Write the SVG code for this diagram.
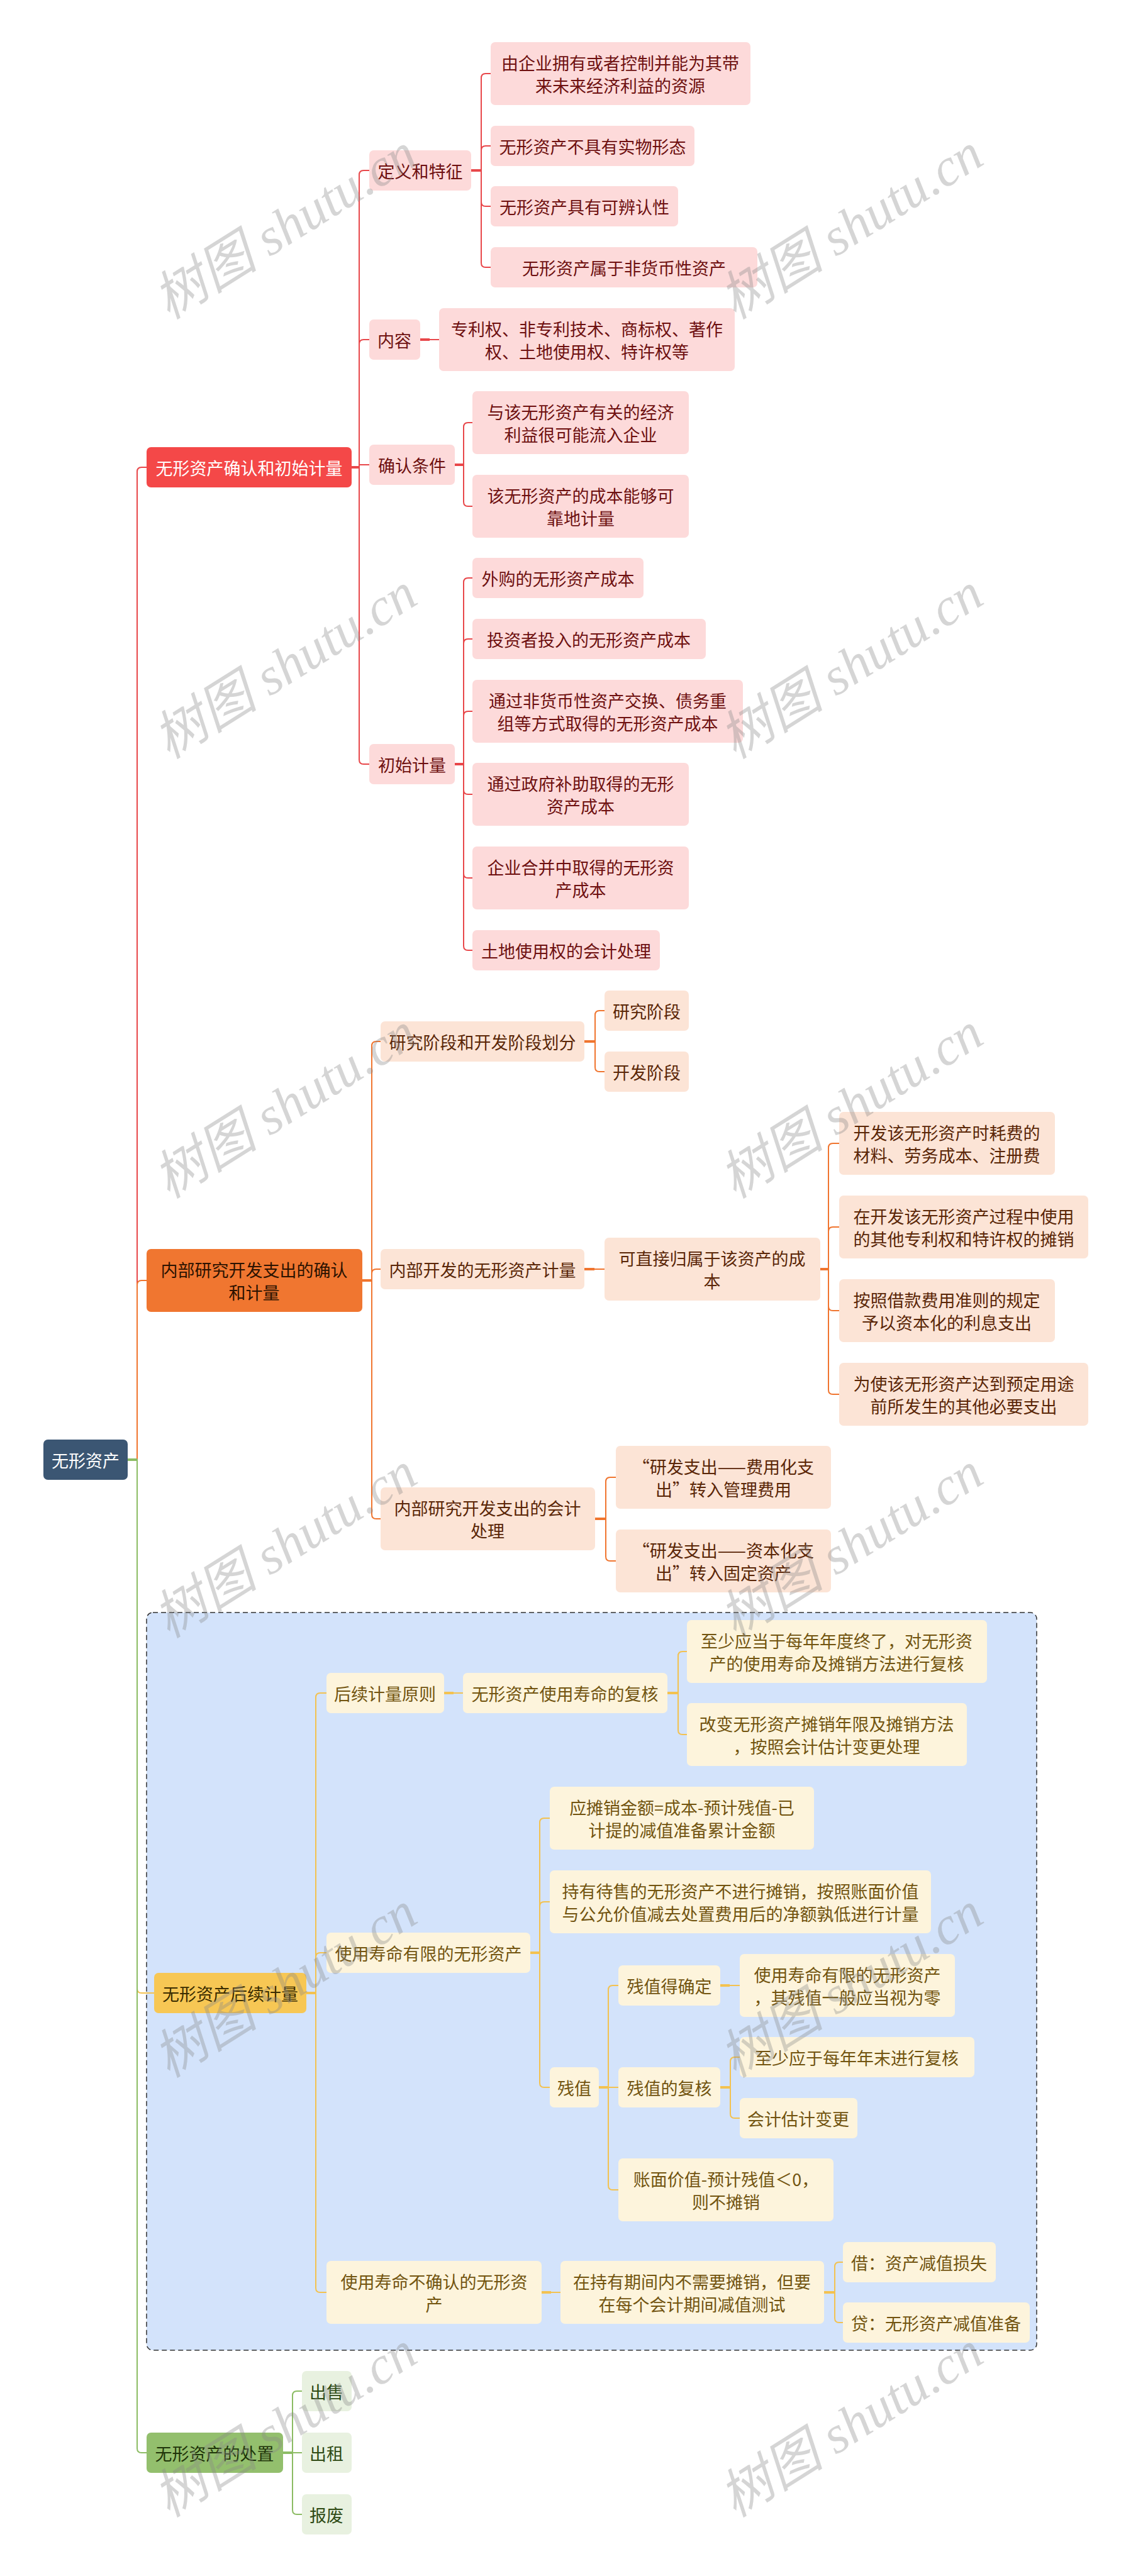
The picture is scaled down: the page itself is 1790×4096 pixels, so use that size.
<svg xmlns="http://www.w3.org/2000/svg" width="1790" height="4096" viewBox="0 0 1790 4096">
<style>
text{font-family:"Noto Sans CJK SC","Noto Sans",sans-serif;font-size:27px;text-anchor:middle;dominant-baseline:central}
.ln{fill:none;stroke-width:2}
.st{fill:none;stroke-width:4}
.red{stroke:#e8474a}.org{stroke:#f0752f}.yel{stroke:#f3c250}.grn{stroke:#8cbc64}
.pk rect{fill:#fddada}.pk text{fill:#6e1010}
.pc rect{fill:#fce4d6}.pc text{fill:#5a2607}
.cr rect{fill:#fdf4dc}.cr text{fill:#725410}
.lg rect{fill:#e8f1e0}.lg text{fill:#2e4a14}
.wm{font-family:"Liberation Serif","Noto Sans CJK SC",serif;font-style:italic;font-size:84px;fill:#888;opacity:.35}
</style>
<rect x="233" y="2564" width="1415" height="1173" rx="10" fill="#d3e3fb" stroke="#333" stroke-width="1.5" stroke-dasharray="8 5"/>
<g id="connectors">
<path class="ln red" d="M203 2321 H218 V750 Q218 743 225 743 H233"/>
<path class="ln org" d="M203 2321 H218 V2043 Q218 2036 225 2036 H233"/>
<path class="ln yel" d="M203 2321 H218 V3162 Q218 3169 225 3169 H245"/>
<path class="ln grn" d="M203 2321 H218 V3893 Q218 3900 225 3900 H233"/>
<path class="st grn" d="M203 2321 H218"/>
<path class="st red" d="M559 743 H571"/>
<path class="ln red" d="M571 743 V278 Q571 271 578 271 H587 M571 743 V547 Q571 540 578 540 H587 M571 743 V739 H587 M571 743 V1208 Q571 1215 578 1215 H587"/>
<path class="st red" d="M749 271 H765"/>
<path class="ln red" d="M765 271 V124 Q765 117 772 117 H780 M765 271 V239 Q765 232 772 232 H780 M765 271 V321 Q765 328 772 328 H780 M765 271 V418 Q765 425 772 425 H780"/>
<path class="st red" d="M668 540 H683"/>
<path class="ln red" d="M683 540 H698"/>
<path class="st red" d="M723 739 H737"/>
<path class="ln red" d="M737 739 V679 Q737 672 744 672 H751 M737 739 V798 Q737 805 744 805 H751"/>
<path class="st red" d="M723 1215 H737"/>
<path class="ln red" d="M737 1215 V926 Q737 919 744 919 H751 M737 1215 V1023 Q737 1016 744 1016 H751 M737 1215 V1138 Q737 1131 744 1131 H751 M737 1215 V1256 Q737 1263 744 1263 H751 M737 1215 V1389 Q737 1396 744 1396 H751 M737 1215 V1504 Q737 1511 744 1511 H751"/>
<path class="st org" d="M576 2036 H591"/>
<path class="ln org" d="M591 2036 V1663 Q591 1656 598 1656 H605 M591 2036 V2025 Q591 2018 598 2018 H605 M591 2036 V2408 Q591 2415 598 2415 H605"/>
<path class="st org" d="M929 1656 H946"/>
<path class="ln org" d="M946 1656 V1614 Q946 1607 953 1607 H961 M946 1656 V1697 Q946 1704 953 1704 H961"/>
<path class="st org" d="M929 2018 H945"/>
<path class="ln org" d="M945 2018 H961"/>
<path class="st org" d="M1304 2018 H1317"/>
<path class="ln org" d="M1317 2018 V1825 Q1317 1818 1324 1818 H1334 M1317 2018 V1958 Q1317 1951 1324 1951 H1334 M1317 2018 V2077 Q1317 2084 1324 2084 H1334 M1317 2018 V2210 Q1317 2217 1324 2217 H1334"/>
<path class="st org" d="M946 2415 H963"/>
<path class="ln org" d="M963 2415 V2356 Q963 2349 970 2349 H979 M963 2415 V2475 Q963 2482 970 2482 H979"/>
<path class="st yel" d="M487 3169 H502"/>
<path class="ln yel" d="M502 3169 V2699 Q502 2692 509 2692 H519 M502 3169 V3112 Q502 3105 509 3105 H519 M502 3169 V3638 Q502 3645 509 3645 H519"/>
<path class="st yel" d="M706 2692 H721"/>
<path class="ln yel" d="M721 2692 H736"/>
<path class="st yel" d="M1061 2692 H1078"/>
<path class="ln yel" d="M1078 2692 V2633 Q1078 2626 1085 2626 H1092 M1078 2692 V2751 Q1078 2758 1085 2758 H1092"/>
<path class="st yel" d="M843 3105 H858"/>
<path class="ln yel" d="M858 3105 V2898 Q858 2891 865 2891 H874 M858 3105 V3031 Q858 3024 865 3024 H874 M858 3105 V3312 Q858 3319 865 3319 H874"/>
<path class="st yel" d="M952 3319 H967"/>
<path class="ln yel" d="M967 3319 V3164 Q967 3157 974 3157 H983 M967 3319 H983 M967 3319 V3475 Q967 3482 974 3482 H983"/>
<path class="st yel" d="M1145 3157 H1160"/>
<path class="ln yel" d="M1160 3157 H1176"/>
<path class="st yel" d="M1145 3319 H1161"/>
<path class="ln yel" d="M1161 3319 V3278 Q1161 3271 1168 3271 H1176 M1161 3319 V3361 Q1161 3368 1168 3368 H1176"/>
<path class="st yel" d="M861 3645 H876"/>
<path class="ln yel" d="M876 3645 H891"/>
<path class="st yel" d="M1310 3645 H1327"/>
<path class="ln yel" d="M1327 3645 V3604 Q1327 3597 1334 3597 H1340 M1327 3645 V3686 Q1327 3693 1334 3693 H1340"/>
<path class="st grn" d="M450 3900 H465"/>
<path class="ln grn" d="M465 3900 V3809 Q465 3802 472 3802 H480 M465 3900 H480 M465 3900 V3991 Q465 3998 472 3998 H480"/>
</g>
<g id="root"><rect x="69" y="2289" width="134" height="64" rx="7" fill="#3b5673"/><text x="136" y="2321" fill="#fff" font-size="28">无形资产</text></g>
<g id="n-a"><rect x="233" y="711" width="326" height="64" rx="7" fill="#f44848"/><text x="396" y="743" fill="#fff">无形资产确认和初始计量</text></g>
<g id="n-a1" class="pk"><rect x="587" y="239" width="162" height="64" rx="7"/><text x="668" y="271">定义和特征</text></g>
<g id="n-a1-1" class="pk"><rect x="780" y="67" width="413" height="100" rx="7"/><text x="986" y="99">由企业拥有或者控制并能为其带</text><text x="986" y="135">来未来经济利益的资源</text></g>
<g id="n-a1-2" class="pk"><rect x="780" y="200" width="324" height="64" rx="7"/><text x="942" y="232">无形资产不具有实物形态</text></g>
<g id="n-a1-3" class="pk"><rect x="780" y="296" width="298" height="64" rx="7"/><text x="929" y="328">无形资产具有可辨认性</text></g>
<g id="n-a1-4" class="pk"><rect x="780" y="393" width="424" height="64" rx="7"/><text x="992" y="425">无形资产属于非货币性资产</text></g>
<g id="n-a2" class="pk"><rect x="587" y="508" width="81" height="64" rx="7"/><text x="627" y="540">内容</text></g>
<g id="n-a2-1" class="pk"><rect x="698" y="490" width="470" height="100" rx="7"/><text x="933" y="522">专利权、非专利技术、商标权、著作</text><text x="933" y="558">权、土地使用权、特许权等</text></g>
<g id="n-a3" class="pk"><rect x="587" y="707" width="136" height="64" rx="7"/><text x="655" y="739">确认条件</text></g>
<g id="n-a3-1" class="pk"><rect x="751" y="622" width="344" height="100" rx="7"/><text x="923" y="654">与该无形资产有关的经济</text><text x="923" y="690">利益很可能流入企业</text></g>
<g id="n-a3-2" class="pk"><rect x="751" y="755" width="344" height="100" rx="7"/><text x="923" y="787">该无形资产的成本能够可</text><text x="923" y="823">靠地计量</text></g>
<g id="n-a4" class="pk"><rect x="587" y="1183" width="136" height="64" rx="7"/><text x="655" y="1215">初始计量</text></g>
<g id="n-a4-1" class="pk"><rect x="751" y="887" width="272" height="64" rx="7"/><text x="887" y="919">外购的无形资产成本</text></g>
<g id="n-a4-2" class="pk"><rect x="751" y="984" width="371" height="64" rx="7"/><text x="936" y="1016">投资者投入的无形资产成本</text></g>
<g id="n-a4-3" class="pk"><rect x="751" y="1081" width="430" height="100" rx="7"/><text x="966" y="1113">通过非货币性资产交换、债务重</text><text x="966" y="1149">组等方式取得的无形资产成本</text></g>
<g id="n-a4-4" class="pk"><rect x="751" y="1213" width="344" height="100" rx="7"/><text x="923" y="1245">通过政府补助取得的无形</text><text x="923" y="1281">资产成本</text></g>
<g id="n-a4-5" class="pk"><rect x="751" y="1346" width="344" height="100" rx="7"/><text x="923" y="1378">企业合并中取得的无形资</text><text x="923" y="1414">产成本</text></g>
<g id="n-a4-6" class="pk"><rect x="751" y="1479" width="298" height="64" rx="7"/><text x="900" y="1511">土地使用权的会计处理</text></g>
<g id="n-b"><rect x="233" y="1986" width="343" height="100" rx="7" fill="#f07630"/><text x="404" y="2018" fill="#2b1200">内部研究开发支出的确认</text><text x="404" y="2054" fill="#2b1200">和计量</text></g>
<g id="n-b1" class="pc"><rect x="605" y="1624" width="324" height="64" rx="7"/><text x="767" y="1656">研究阶段和开发阶段划分</text></g>
<g id="n-b1-1" class="pc"><rect x="961" y="1575" width="134" height="64" rx="7"/><text x="1028" y="1607">研究阶段</text></g>
<g id="n-b1-2" class="pc"><rect x="961" y="1672" width="134" height="64" rx="7"/><text x="1028" y="1704">开发阶段</text></g>
<g id="n-b2" class="pc"><rect x="605" y="1986" width="324" height="64" rx="7"/><text x="767" y="2018">内部开发的无形资产计量</text></g>
<g id="n-b2-1" class="pc"><rect x="961" y="1968" width="343" height="100" rx="7"/><text x="1132" y="2000">可直接归属于该资产的成</text><text x="1132" y="2036">本</text></g>
<g id="n-b2-1-1" class="pc"><rect x="1334" y="1768" width="343" height="100" rx="7"/><text x="1505" y="1800">开发该无形资产时耗费的</text><text x="1505" y="1836">材料、劳务成本、注册费</text></g>
<g id="n-b2-1-2" class="pc"><rect x="1334" y="1901" width="396" height="100" rx="7"/><text x="1532" y="1933">在开发该无形资产过程中使用</text><text x="1532" y="1969">的其他专利权和特许权的摊销</text></g>
<g id="n-b2-1-3" class="pc"><rect x="1334" y="2034" width="343" height="100" rx="7"/><text x="1505" y="2066">按照借款费用准则的规定</text><text x="1505" y="2102">予以资本化的利息支出</text></g>
<g id="n-b2-1-4" class="pc"><rect x="1334" y="2167" width="396" height="100" rx="7"/><text x="1532" y="2199">为使该无形资产达到预定用途</text><text x="1532" y="2235">前所发生的其他必要支出</text></g>
<g id="n-b3" class="pc"><rect x="605" y="2365" width="341" height="100" rx="7"/><text x="775" y="2397">内部研究开发支出的会计</text><text x="775" y="2433">处理</text></g>
<g id="n-b3-1" class="pc"><rect x="979" y="2299" width="342" height="100" rx="7"/><text x="1150" y="2331">“研发支出——费用化支</text><text x="1150" y="2367">出”转入管理费用</text></g>
<g id="n-b3-2" class="pc"><rect x="979" y="2432" width="342" height="100" rx="7"/><text x="1150" y="2464">“研发支出——资本化支</text><text x="1150" y="2500">出”转入固定资产</text></g>
<g id="n-c"><rect x="245" y="3137" width="242" height="64" rx="7" fill="#f7c754"/><text x="366" y="3169" fill="#3a2c00">无形资产后续计量</text></g>
<g id="n-c1" class="cr"><rect x="519" y="2660" width="187" height="64" rx="7"/><text x="612" y="2692">后续计量原则</text></g>
<g id="n-c1-1" class="cr"><rect x="736" y="2660" width="325" height="64" rx="7"/><text x="898" y="2692">无形资产使用寿命的复核</text></g>
<g id="n-c1-1-1" class="cr"><rect x="1092" y="2576" width="477" height="100" rx="7"/><text x="1330" y="2608">至少应当于每年年度终了，对无形资</text><text x="1330" y="2644">产的使用寿命及摊销方法进行复核</text></g>
<g id="n-c1-1-2" class="cr"><rect x="1092" y="2708" width="445" height="100" rx="7"/><text x="1314" y="2740">改变无形资产摊销年限及摊销方法</text><text x="1314" y="2776">，按照会计估计变更处理</text></g>
<g id="n-c2" class="cr"><rect x="519" y="3073" width="324" height="64" rx="7"/><text x="681" y="3105">使用寿命有限的无形资产</text></g>
<g id="n-c2-1" class="cr"><rect x="874" y="2841" width="420" height="100" rx="7"/><text x="1084" y="2873">应摊销金额=成本-预计残值-已</text><text x="1084" y="2909">计提的减值准备累计金额</text></g>
<g id="n-c2-2" class="cr"><rect x="874" y="2974" width="606" height="100" rx="7"/><text x="1177" y="3006">持有待售的无形资产不进行摊销，按照账面价值</text><text x="1177" y="3042">与公允价值减去处置费用后的净额孰低进行计量</text></g>
<g id="n-c2-3" class="cr"><rect x="874" y="3287" width="78" height="64" rx="7"/><text x="913" y="3319">残值</text></g>
<g id="n-c2-3-1" class="cr"><rect x="983" y="3125" width="162" height="64" rx="7"/><text x="1064" y="3157">残值得确定</text></g>
<g id="n-c2-3-1-1" class="cr"><rect x="1176" y="3107" width="342" height="100" rx="7"/><text x="1347" y="3139">使用寿命有限的无形资产</text><text x="1347" y="3175">，其残值一般应当视为零</text></g>
<g id="n-c2-3-2" class="cr"><rect x="983" y="3287" width="162" height="64" rx="7"/><text x="1064" y="3319">残值的复核</text></g>
<g id="n-c2-3-2-1" class="cr"><rect x="1176" y="3239" width="373" height="64" rx="7"/><text x="1362" y="3271">至少应于每年年末进行复核</text></g>
<g id="n-c2-3-2-2" class="cr"><rect x="1176" y="3336" width="187" height="64" rx="7"/><text x="1269" y="3368">会计估计变更</text></g>
<g id="n-c2-3-3" class="cr"><rect x="983" y="3432" width="342" height="100" rx="7"/><text x="1154" y="3464">账面价值-预计残值＜0，</text><text x="1154" y="3500">则不摊销</text></g>
<g id="n-c3" class="cr"><rect x="519" y="3595" width="342" height="100" rx="7"/><text x="690" y="3627">使用寿命不确认的无形资</text><text x="690" y="3663">产</text></g>
<g id="n-c3-1" class="cr"><rect x="891" y="3595" width="419" height="100" rx="7"/><text x="1100" y="3627">在持有期间内不需要摊销，但要</text><text x="1100" y="3663">在每个会计期间减值测试</text></g>
<g id="n-c3-1-1" class="cr"><rect x="1340" y="3565" width="243" height="64" rx="7"/><text x="1461" y="3597">借：资产减值损失</text></g>
<g id="n-c3-1-2" class="cr"><rect x="1340" y="3661" width="297" height="64" rx="7"/><text x="1488" y="3693">贷：无形资产减值准备</text></g>
<g id="n-d"><rect x="233" y="3868" width="217" height="64" rx="7" fill="#93bf6d"/><text x="341" y="3900" fill="#1e3309">无形资产的处置</text></g>
<g id="n-d1" class="lg"><rect x="480" y="3770" width="79" height="64" rx="7"/><text x="519" y="3802">出售</text></g>
<g id="n-d2" class="lg"><rect x="480" y="3868" width="79" height="64" rx="7"/><text x="519" y="3900">出租</text></g>
<g id="n-d3" class="lg"><rect x="480" y="3966" width="79" height="64" rx="7"/><text x="519" y="3998">报废</text></g>
<g id="watermarks">
<text class="wm" transform="translate(453 360) rotate(-32)">树图 shutu.cn</text>
<text class="wm" transform="translate(1353 360) rotate(-32)">树图 shutu.cn</text>
<text class="wm" transform="translate(453 1059) rotate(-32)">树图 shutu.cn</text>
<text class="wm" transform="translate(1353 1059) rotate(-32)">树图 shutu.cn</text>
<text class="wm" transform="translate(453 1758) rotate(-32)">树图 shutu.cn</text>
<text class="wm" transform="translate(1353 1758) rotate(-32)">树图 shutu.cn</text>
<text class="wm" transform="translate(453 2457) rotate(-32)">树图 shutu.cn</text>
<text class="wm" transform="translate(1353 2457) rotate(-32)">树图 shutu.cn</text>
<text class="wm" transform="translate(453 3156) rotate(-32)">树图 shutu.cn</text>
<text class="wm" transform="translate(1353 3156) rotate(-32)">树图 shutu.cn</text>
<text class="wm" transform="translate(453 3855) rotate(-32)">树图 shutu.cn</text>
<text class="wm" transform="translate(1353 3855) rotate(-32)">树图 shutu.cn</text>
</g>
</svg>
